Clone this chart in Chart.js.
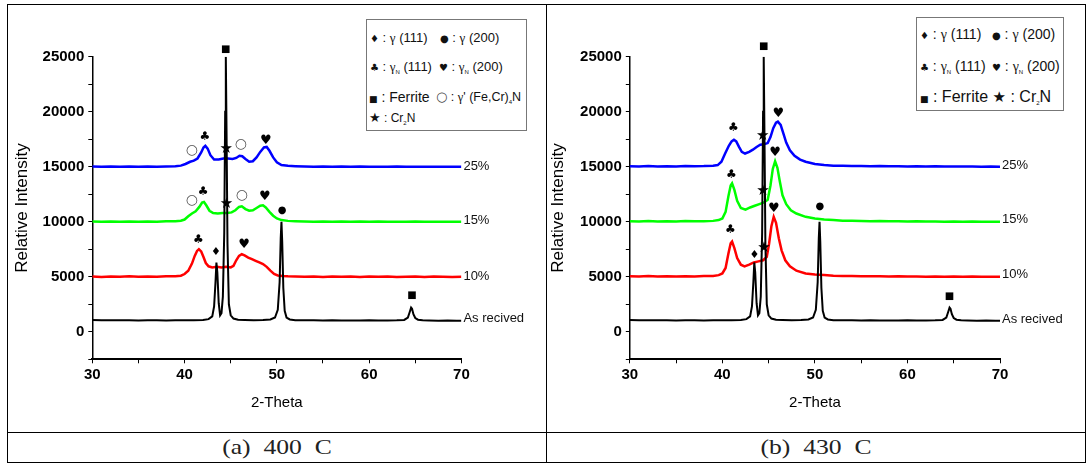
<!DOCTYPE html>
<html><head><meta charset="utf-8">
<script src="https://cdn.jsdelivr.net/npm/chart.js@4.4.1/dist/chart.umd.min.js"></script>
<style>
body{margin:0;background:#fff;}
#wrap{position:relative;width:1091px;height:464px;overflow:hidden;background:#fff;font-family:'Liberation Sans',Arial,sans-serif;}
.ln{position:absolute;background:#000;}
canvas{position:absolute;}
.lg{position:absolute;border:1px solid #777;background:#fff;box-sizing:border-box;}
.it{position:absolute;white-space:nowrap;transform:translateY(-50%);color:#111;line-height:1;}
.sym{font-family:'DejaVu Sans',sans-serif;font-size:9px;}
.g{font-family:'Liberation Serif','DejaVu Serif',serif;}
.sb{font-size:6px;vertical-align:-3px;}
.cap{position:absolute;font-family:'Liberation Serif',serif;font-size:21px;white-space:pre;transform:translate(-50%,-50%) scaleX(1.22);color:#222;line-height:1;}
</style></head>
<body>
<div id="wrap">
  <canvas id="c1" width="538" height="427" style="left:8px;top:5px"></canvas>
  <canvas id="c2" width="538" height="427" style="left:547px;top:5px"></canvas>

  <div class="ln" style="left:7px;top:4px;width:1079px;height:1px"></div>
  <div class="ln" style="left:7px;top:462px;width:1079px;height:1px"></div>
  <div class="ln" style="left:7px;top:4px;width:1px;height:459px"></div>
  <div class="ln" style="left:1085px;top:4px;width:1px;height:459px"></div>
  <div class="ln" style="left:546px;top:4px;width:1px;height:459px"></div>
  <div class="ln" style="left:7px;top:432px;width:1079px;height:1px"></div>

  <div class="lg" style="left:366px;top:19px;width:161px;height:112px"></div>
  <div class="it" style="left:370px;top:37px;font-size:13px"><span class="sym" style="font-size:10px">&#9830;</span> : <span class="g">&#947;</span> (111)</div>
  <div class="it" style="left:440px;top:37px;font-size:13px"><span class="sym" style="font-size:10px">&#9679;</span> : <span class="g">&#947;</span> (200)</div>
  <div class="it" style="left:370px;top:67px;font-size:13px"><span class="sym" style="font-size:10px">&#9827;</span> : <span class="g">&#947;</span><span class="sb">N</span> (111)</div>
  <div class="it" style="left:439px;top:67px;font-size:13px"><span class="sym" style="font-size:10px">&#9829;</span> : <span class="g">&#947;</span><span class="sb">N</span> (200)</div>
  <div class="it" style="left:369px;top:97px;font-size:14px"><span class="sym">&#9632;</span> : Ferrite</div>
  <div class="it" style="left:436px;top:97px;font-size:12.5px"><span class="sym" style="font-size:13px;color:#444">&#9675;</span> : <span class="g">&#947;</span>' (Fe,Cr)<span class="sb">4</span>N</div>
  <div class="it" style="left:369px;top:118px;font-size:12px"><span class="sym" style="font-size:13px">&#9733;</span> : Cr<span class="sb">2</span>N</div>

  <div class="lg" style="left:916px;top:17px;width:148px;height:94px"></div>
  <div class="it" style="left:920px;top:34px;font-size:14px"><span class="sym" style="font-size:10px">&#9830;</span> : <span class="g">&#947;</span> (111)</div>
  <div class="it" style="left:992px;top:34px;font-size:14px"><span class="sym" style="font-size:10px">&#9679;</span> : <span class="g">&#947;</span> (200)</div>
  <div class="it" style="left:920px;top:67px;font-size:14px"><span class="sym" style="font-size:10px">&#9827;</span> : <span class="g">&#947;</span><span class="sb">N</span> (111)</div>
  <div class="it" style="left:992px;top:67px;font-size:14px"><span class="sym" style="font-size:10px">&#9829;</span> : <span class="g">&#947;</span><span class="sb">N</span> (200)</div>
  <div class="it" style="left:920px;top:97px;font-size:16px"><span class="sym">&#9632;</span> : Ferrite <span class="sym" style="font-size:15px">&#9733;</span> : Cr<span class="sb">2</span>N</div>

  <div class="cap" style="left:277px;top:447px">(a)  400  C</div>
  <div class="cap" style="left:816px;top:447px">(b)  430  C</div>
</div>
<script>
// ---------- data (2-Theta, intensity) ----------
const asReceived = [[30,1080],[31,1050],[32,1060],[33,1040],[34,1050],[35,1030],[36,1040],[37,1050],[38,1030],[39,1040],[40,1050],[41,1060],[42,1080],[42.6,1150],[43.0,1400],[43.2,2300],[43.35,4500],[43.45,6300],[43.55,5400],[43.7,2600],[43.85,1500],[44.0,1700],[44.15,3200],[44.3,9000],[44.4,20000],[44.47,25000],[44.55,18000],[44.65,8000],[44.8,2500],[45.0,1500],[45.3,1200],[45.8,1100],[46.5,1080],[47.5,1060],[48.5,1070],[49.3,1120],[49.8,1300],[50.1,2000],[50.3,4500],[50.42,8500],[50.5,10000],[50.58,8200],[50.7,4000],[50.85,1900],[51.05,1300],[51.4,1120],[52,1060],[53,1050],[54,1040],[55,1030],[56,1040],[57,1030],[58,1020],[59,1030],[60,1040],[61,1020],[62,1030],[63,1040],[63.8,1080],[64.2,1300],[64.4,1800],[64.55,2200],[64.65,2100],[64.8,1600],[65.0,1250],[65.3,1100],[65.8,1040],[66.5,1030],[67.5,1010],[68.5,1020],[69.5,1000],[70,1000]];

const n10_400 = [[30,5020],[31,4990],[32,5030],[33,5000],[34,5040],[35,5010],[36,5030],[37,5000],[38,5040],[39,5050],[39.6,5100],[40.0,5250],[40.4,5550],[40.8,6200],[41.1,6900],[41.35,7350],[41.55,7500],[41.8,7300],[42.05,6800],[42.3,6250],[42.6,5950],[43.0,5850],[43.5,5900],[44.0,5850],[44.5,5900],[45.0,5850],[45.3,6000],[45.6,6500],[45.9,6900],[46.2,7050],[46.5,6950],[46.9,6750],[47.3,6600],[47.7,6450],[48.1,6300],[48.5,6150],[48.9,5900],[49.3,5550],[49.7,5250],[50.1,5120],[50.6,5080],[51.2,5050],[52,5030],[53,5000],[54,5020],[55,4990],[56,5030],[57,5000],[58,5020],[59,4990],[60,5030],[61,5000],[62,5020],[63,4990],[64,5010],[65,5030],[66,4990],[67,5020],[68,5000],[69,4990],[70,5000]];

const n15_400 = [[30,10020],[31,9990],[32,10030],[33,10000],[34,10020],[35,9990],[36,10030],[37,10000],[38,10040],[39,10050],[39.6,10100],[40.0,10200],[40.4,10500],[40.8,10750],[41.2,10950],[41.6,11350],[41.9,11750],[42.1,11800],[42.35,11500],[42.7,11000],[43.1,10800],[43.6,10750],[44.1,10800],[44.6,10800],[45.1,10850],[45.5,11050],[45.9,11350],[46.2,11400],[46.6,11150],[47.0,11000],[47.4,11050],[47.8,11250],[48.2,11450],[48.5,11500],[48.8,11300],[49.2,10900],[49.6,10550],[50.0,10300],[50.5,10150],[51.2,10080],[52,10050],[53,10020],[54,10000],[55,10030],[56,9990],[57,10020],[58,10000],[59,10030],[60,9990],[61,10020],[62,10000],[63,10010],[64,9990],[65,10020],[66,10000],[67,10010],[68,9990],[69,10010],[70,10000]];

const n25_400 = [[30,15020],[31,14990],[32,15030],[33,15000],[34,15020],[35,14990],[36,15030],[37,15000],[38,15030],[39,15050],[39.6,15100],[40.1,15250],[40.6,15450],[41.0,15550],[41.4,15750],[41.8,16300],[42.05,16750],[42.25,16900],[42.5,16650],[42.8,16050],[43.2,15650],[43.7,15650],[44.2,15750],[44.7,15750],[45.2,15700],[45.6,15800],[45.95,16000],[46.25,15950],[46.6,15700],[47.0,15450],[47.4,15500],[47.8,15850],[48.2,16350],[48.6,16750],[48.9,16800],[49.2,16450],[49.6,15850],[50.0,15400],[50.5,15150],[51.2,15080],[52,15050],[53,15020],[54,15000],[55,15030],[56,14990],[57,15020],[58,15000],[59,15020],[60,14990],[61,15010],[62,15000],[63,15020],[64,14990],[65,15010],[66,15000],[67,15010],[68,14990],[69,15010],[70,15000]];

const n10_430 = [[30,5050],[31,5020],[32,5060],[33,5030],[34,5050],[35,5020],[36,5050],[37,5030],[38,5060],[39,5080],[39.6,5150],[40.0,5300],[40.35,5800],[40.65,7100],[40.9,8050],[41.05,8200],[41.3,7600],[41.6,6700],[42.0,6100],[42.4,5950],[42.9,6100],[43.4,6300],[43.9,6400],[44.4,6500],[44.8,6800],[45.05,8000],[45.3,9600],[45.55,10450],[45.8,9900],[46.1,8500],[46.4,7400],[46.8,6500],[47.3,5950],[48.0,5550],[49.0,5300],[50.0,5200],[51,5150],[52,5100],[53,5080],[54,5060],[55,5050],[56,5040],[57,5050],[58,5030],[59,5040],[60,5020],[61,5030],[62,5010],[63,5030],[64,5010],[65,5020],[66,5000],[67,5020],[68,5000],[69,5010],[70,5000]];

const n15_430 = [[30,10050],[31,10020],[32,10060],[33,10030],[34,10050],[35,10030],[36,10060],[37,10040],[38,10050],[39,10080],[39.6,10150],[40.0,10300],[40.35,10900],[40.65,12300],[40.9,13300],[41.05,13500],[41.3,12900],[41.6,11900],[42.0,11250],[42.5,11100],[43.0,11300],[43.5,11450],[44.0,11600],[44.5,11750],[44.9,12000],[45.2,13300],[45.45,14800],[45.7,15500],[45.95,14900],[46.2,13700],[46.5,12400],[46.9,11600],[47.4,11050],[48.0,10750],[49.0,10450],[50.0,10300],[51,10200],[52,10150],[53,10100],[54,10080],[55,10070],[56,10050],[57,10060],[58,10040],[59,10050],[60,10030],[61,10040],[62,10020],[63,10030],[64,10010],[65,10020],[66,10000],[67,10020],[68,10000],[69,10010],[70,10000]];

const n25_430 = [[30,15050],[31,15020],[32,15060],[33,15030],[34,15050],[35,15020],[36,15060],[37,15040],[38,15060],[39,15100],[39.5,15150],[39.9,15450],[40.3,16200],[40.7,16900],[41.0,17300],[41.25,17450],[41.5,17300],[41.8,16800],[42.1,16350],[42.45,16200],[42.9,16350],[43.3,16550],[43.7,16800],[44.1,17000],[44.5,17050],[44.9,17150],[45.2,17700],[45.5,18500],[45.8,19000],[46.0,19100],[46.3,18800],[46.6,18000],[46.9,17200],[47.3,16500],[47.8,16000],[48.4,15650],[49.0,15450],[50.0,15250],[51,15150],[52,15100],[53,15080],[54,15060],[55,15070],[56,15050],[57,15060],[58,15040],[59,15050],[60,15030],[61,15040],[62,15030],[63,15040],[64,15020],[65,15030],[66,15020],[67,15030],[68,15010],[69,15020],[70,15010]];

// peak markers [symbol, 2-Theta, intensity]
const marks400 = [['■',44.45,25700],['○',40.8,16500],['♣',42.2,17700],['★',44.5,16600],['○',46.1,17000],['♥',48.8,17400],['○',40.8,11900],['♣',42.0,12700],['★',44.55,11600],['○',46.2,12400],['♥',48.7,12300],['●',50.57,11060],['♣',41.5,8330],['♦',43.4,7200],['♥',46.45,7880],['■',64.64,3270]];
const marks430 = [['■',44.47,25900],['♣',41.2,18500],['★',44.36,17800],['♥',46.05,19850],['♣',40.98,14300],['★',44.4,12800],['♥',45.7,16300],['●',50.53,11400],['♣',40.86,9240],['♦',43.46,7000],['★',44.5,7580],['♥',45.56,11150],['■',64.55,3180]];

// series end labels [text, intensity]
const ends400 = [['25%',15000],['15%',10150],['10%',5000],['As recived',1200]];
const ends430 = [['25%',15150],['15%',10200],['10%',5200],['As recived',1150]];

const xTicks = [30,40,50,60,70];
const yTicks = [0,5000,10000,15000,20000,25000];
// ------------------------------------------------

const symStyle = {'■':[10,'#000'],'●':[10,'#000'],'♦':[11,'#000'],'♣':[12,'#000'],'♥':[13,'#000'],'★':[15,'#000'],'○':[14,'#555']};
const tickFont = {family:"'Liberation Sans Narrow','Arial Narrow','Liberation Sans',sans-serif", size:15, weight:'bold'};

function toXY(a){return a.map(p=>({x:p[0],y:p[1]}));}

function makeChart(id, curves, marks, ends, yW, rightPad, yTitlePad){
  const notes = {
    id:'notes',
    afterDatasetsDraw(chart){
      const ctx = chart.ctx, xs = chart.scales.x, ys = chart.scales.y;
      ctx.save();
      ctx.textAlign='center'; ctx.textBaseline='middle';
      marks.forEach(m=>{
        const st = symStyle[m[0]];
        ctx.font = st[0]+"px 'DejaVu Sans'";
        ctx.fillStyle = st[1];
        ctx.fillText(m[0], xs.getPixelForValue(m[1]), ys.getPixelForValue(m[2]));
      });
      ctx.textAlign='left';
      ctx.font = "13px 'Liberation Sans', Arial, sans-serif";
      ctx.fillStyle = '#111';
      ends.forEach(e=>{
        ctx.fillText(e[0], xs.getPixelForValue(70)+2, ys.getPixelForValue(e[1]));
      });
      ctx.restore();
    }
  };
  return new Chart(document.getElementById(id), {
    type:'scatter',
    data:{datasets: curves.map(c=>({data:toXY(c[0]), borderColor:c[1], borderWidth:c[2], showLine:true, pointRadius:0, tension:0, fill:false}))},
    options:{
      responsive:false, animation:false, events:[],
      layout:{padding:{top:51.7,right:rightPad,left:0,bottom:0}},
      plugins:{legend:{display:false},tooltip:{enabled:false}},
      scales:{
        x:{type:'linear',min:30,max:70,
           afterFit(s){s.height=72.7;},
           afterBuildTicks(s){s.ticks=[30,35,40,45,50,55,60,65,70].map(v=>({value:v}));},
           ticks:{autoSkip:false,maxRotation:0,padding:3,color:'#000',font:tickFont,
                  callback:v=>xTicks.includes(v)?String(v):''},
           grid:{drawOnChartArea:false,drawTicks:true,tickLength:4,color:'#000',lineWidth:1},
           border:{display:true,color:'#000',width:2},
           title:{display:true,text:'2-Theta',color:'#000',font:{family:"'Liberation Sans',Arial,sans-serif",size:15},padding:{top:0,bottom:20}}},
        y:{type:'linear',min:-2500,max:25000,
           afterFit(s){s.width=yW;},
           afterBuildTicks(s){const t=[];for(let v=-2500;v<=25000;v+=2500)t.push({value:v});s.ticks=t;},
           ticks:{autoSkip:false,padding:4,color:'#000',font:tickFont,
                  callback:v=>yTicks.includes(v)?String(v):''},
           grid:{drawOnChartArea:false,drawTicks:true,tickLength:4,color:'#000',lineWidth:1},
           border:{display:true,color:'#000',width:1.5},
           title:{display:true,text:'Relative Intensity',color:'#000',font:{family:"'Liberation Sans',Arial,sans-serif",size:17},padding:{top:yTitlePad,bottom:0}}}
      }
    },
    plugins:[notes]
  });
}

makeChart('c1', [[asReceived,'#000',2],[n10_400,'#ff0000',2.5],[n15_400,'#00ff00',2.5],[n25_400,'#0000ff',2.5]], marks400, ends400, 84.3, 84.6, 4);
makeChart('c2', [[asReceived,'#000',2],[n10_430,'#ff0000',2.5],[n15_430,'#00ff00',2.5],[n25_430,'#0000ff',2.5]], marks430, ends430, 82.8, 85, 1);
</script>
</body></html>
